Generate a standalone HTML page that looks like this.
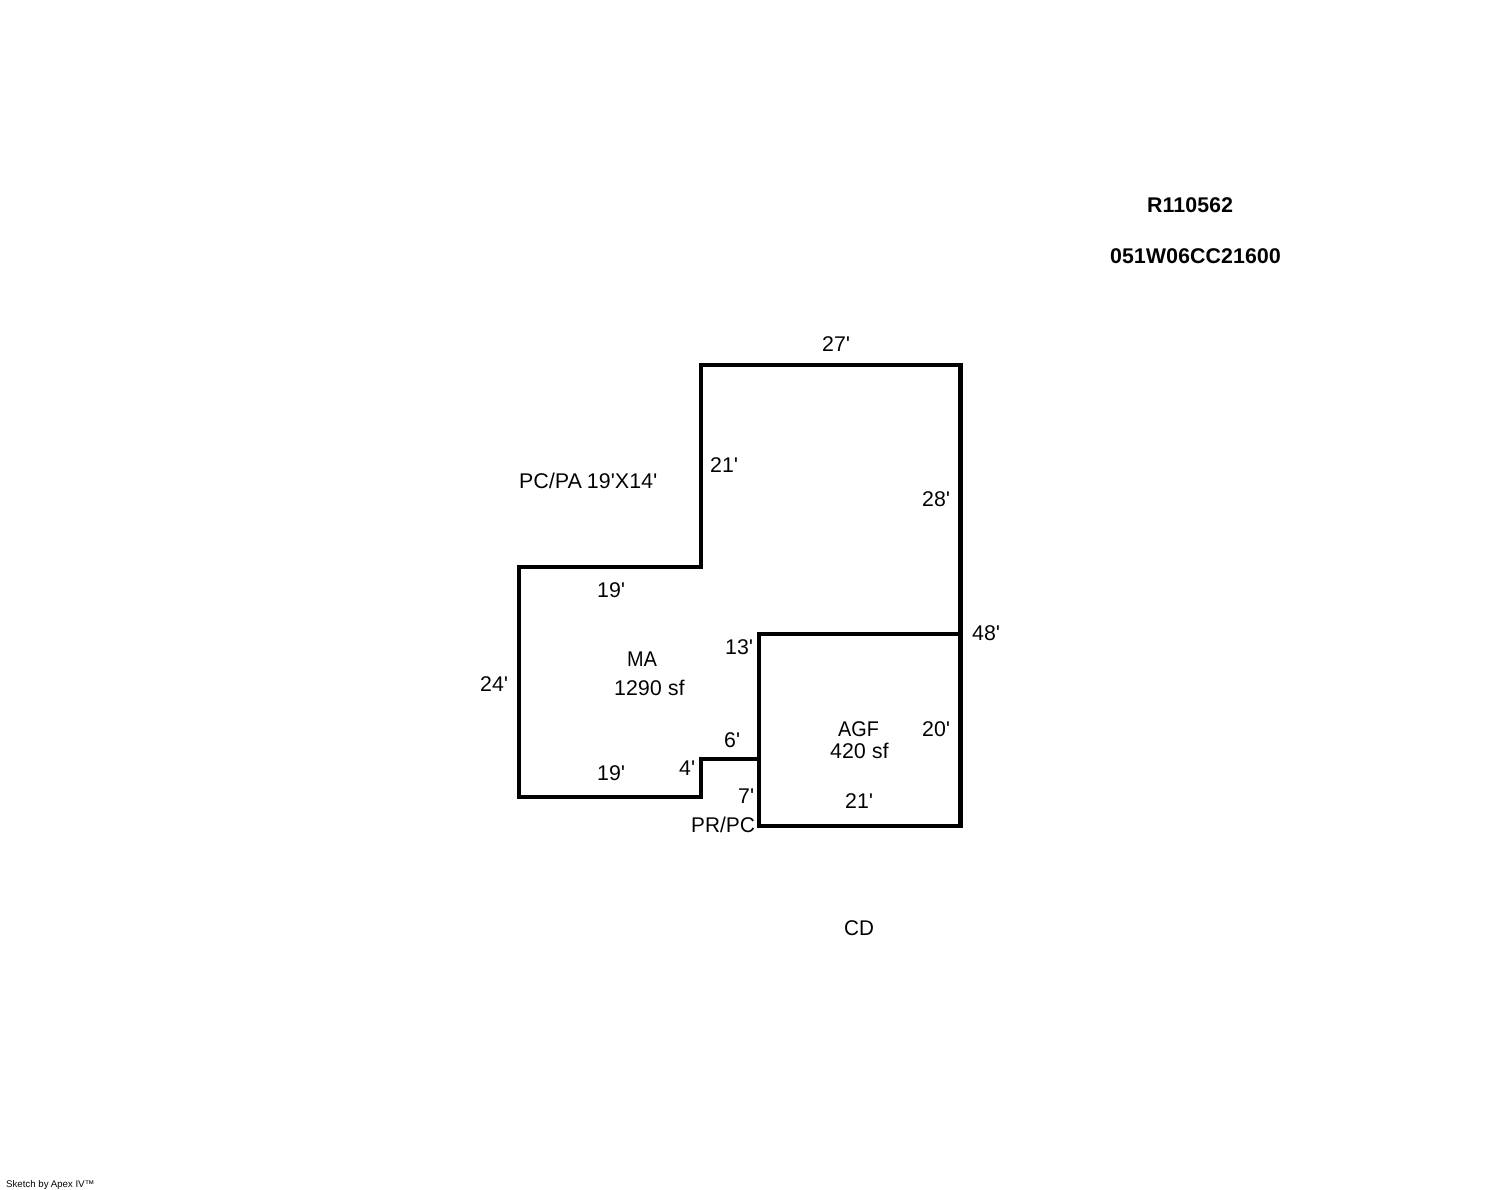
<!DOCTYPE html>
<html><head><meta charset="utf-8"><style>
html,body{margin:0;padding:0;background:#fff}
svg{display:block}
text{font-family:"Liberation Sans",Arial,sans-serif;font-size:21.33px;letter-spacing:.1px;fill:#000}
.b{font-weight:bold}
.s{font-size:9.7px;letter-spacing:0}
</style></head><body>
<svg width="1488" height="1190" viewBox="0 0 1488 1190" xmlns="http://www.w3.org/2000/svg" text-rendering="geometricPrecision">
<g fill="none" stroke="#000" stroke-width="4" stroke-linecap="square" stroke-linejoin="miter" shape-rendering="crispEdges">
<path d="M701 365H961V826H759V759H701V797H519V567H701Z"/>
<path d="M759 759V634H961"/>
</g>
<rect x="958" y="363" width="2" height="465" fill="#000" shape-rendering="crispEdges"/>
<text class="b" x="1147" y="212" letter-spacing="0.25">R110562</text>
<text class="b" x="1110" y="263">051W06CC21600</text>
<text x="822" y="351">27'</text>
<text x="710" y="472">21'</text>
<text x="519" y="488">PC/PA 19'X14'</text>
<text x="922" y="506">28'</text>
<text x="597" y="597">19'</text>
<text x="972" y="640">48'</text>
<text x="725" y="654">13'</text>
<text x="627" y="666" textLength="30" lengthAdjust="spacingAndGlyphs">MA</text>
<text x="480" y="691">24'</text>
<text x="614" y="695">1290 sf</text>
<text x="838" y="736" textLength="41" lengthAdjust="spacingAndGlyphs">AGF</text>
<text x="922" y="736">20'</text>
<text x="724" y="747">6'</text>
<text x="830" y="758">420 sf</text>
<text x="679" y="775">4'</text>
<text x="597" y="780">19'</text>
<text x="738" y="803">7'</text>
<text x="845" y="808">21'</text>
<text x="691" y="832" textLength="64" lengthAdjust="spacingAndGlyphs">PR/PC</text>
<text x="844" y="935" textLength="30" lengthAdjust="spacingAndGlyphs">CD</text>
<text class="s" x="6" y="1187">Sketch by Apex IV™</text>
</svg>
</body></html>
